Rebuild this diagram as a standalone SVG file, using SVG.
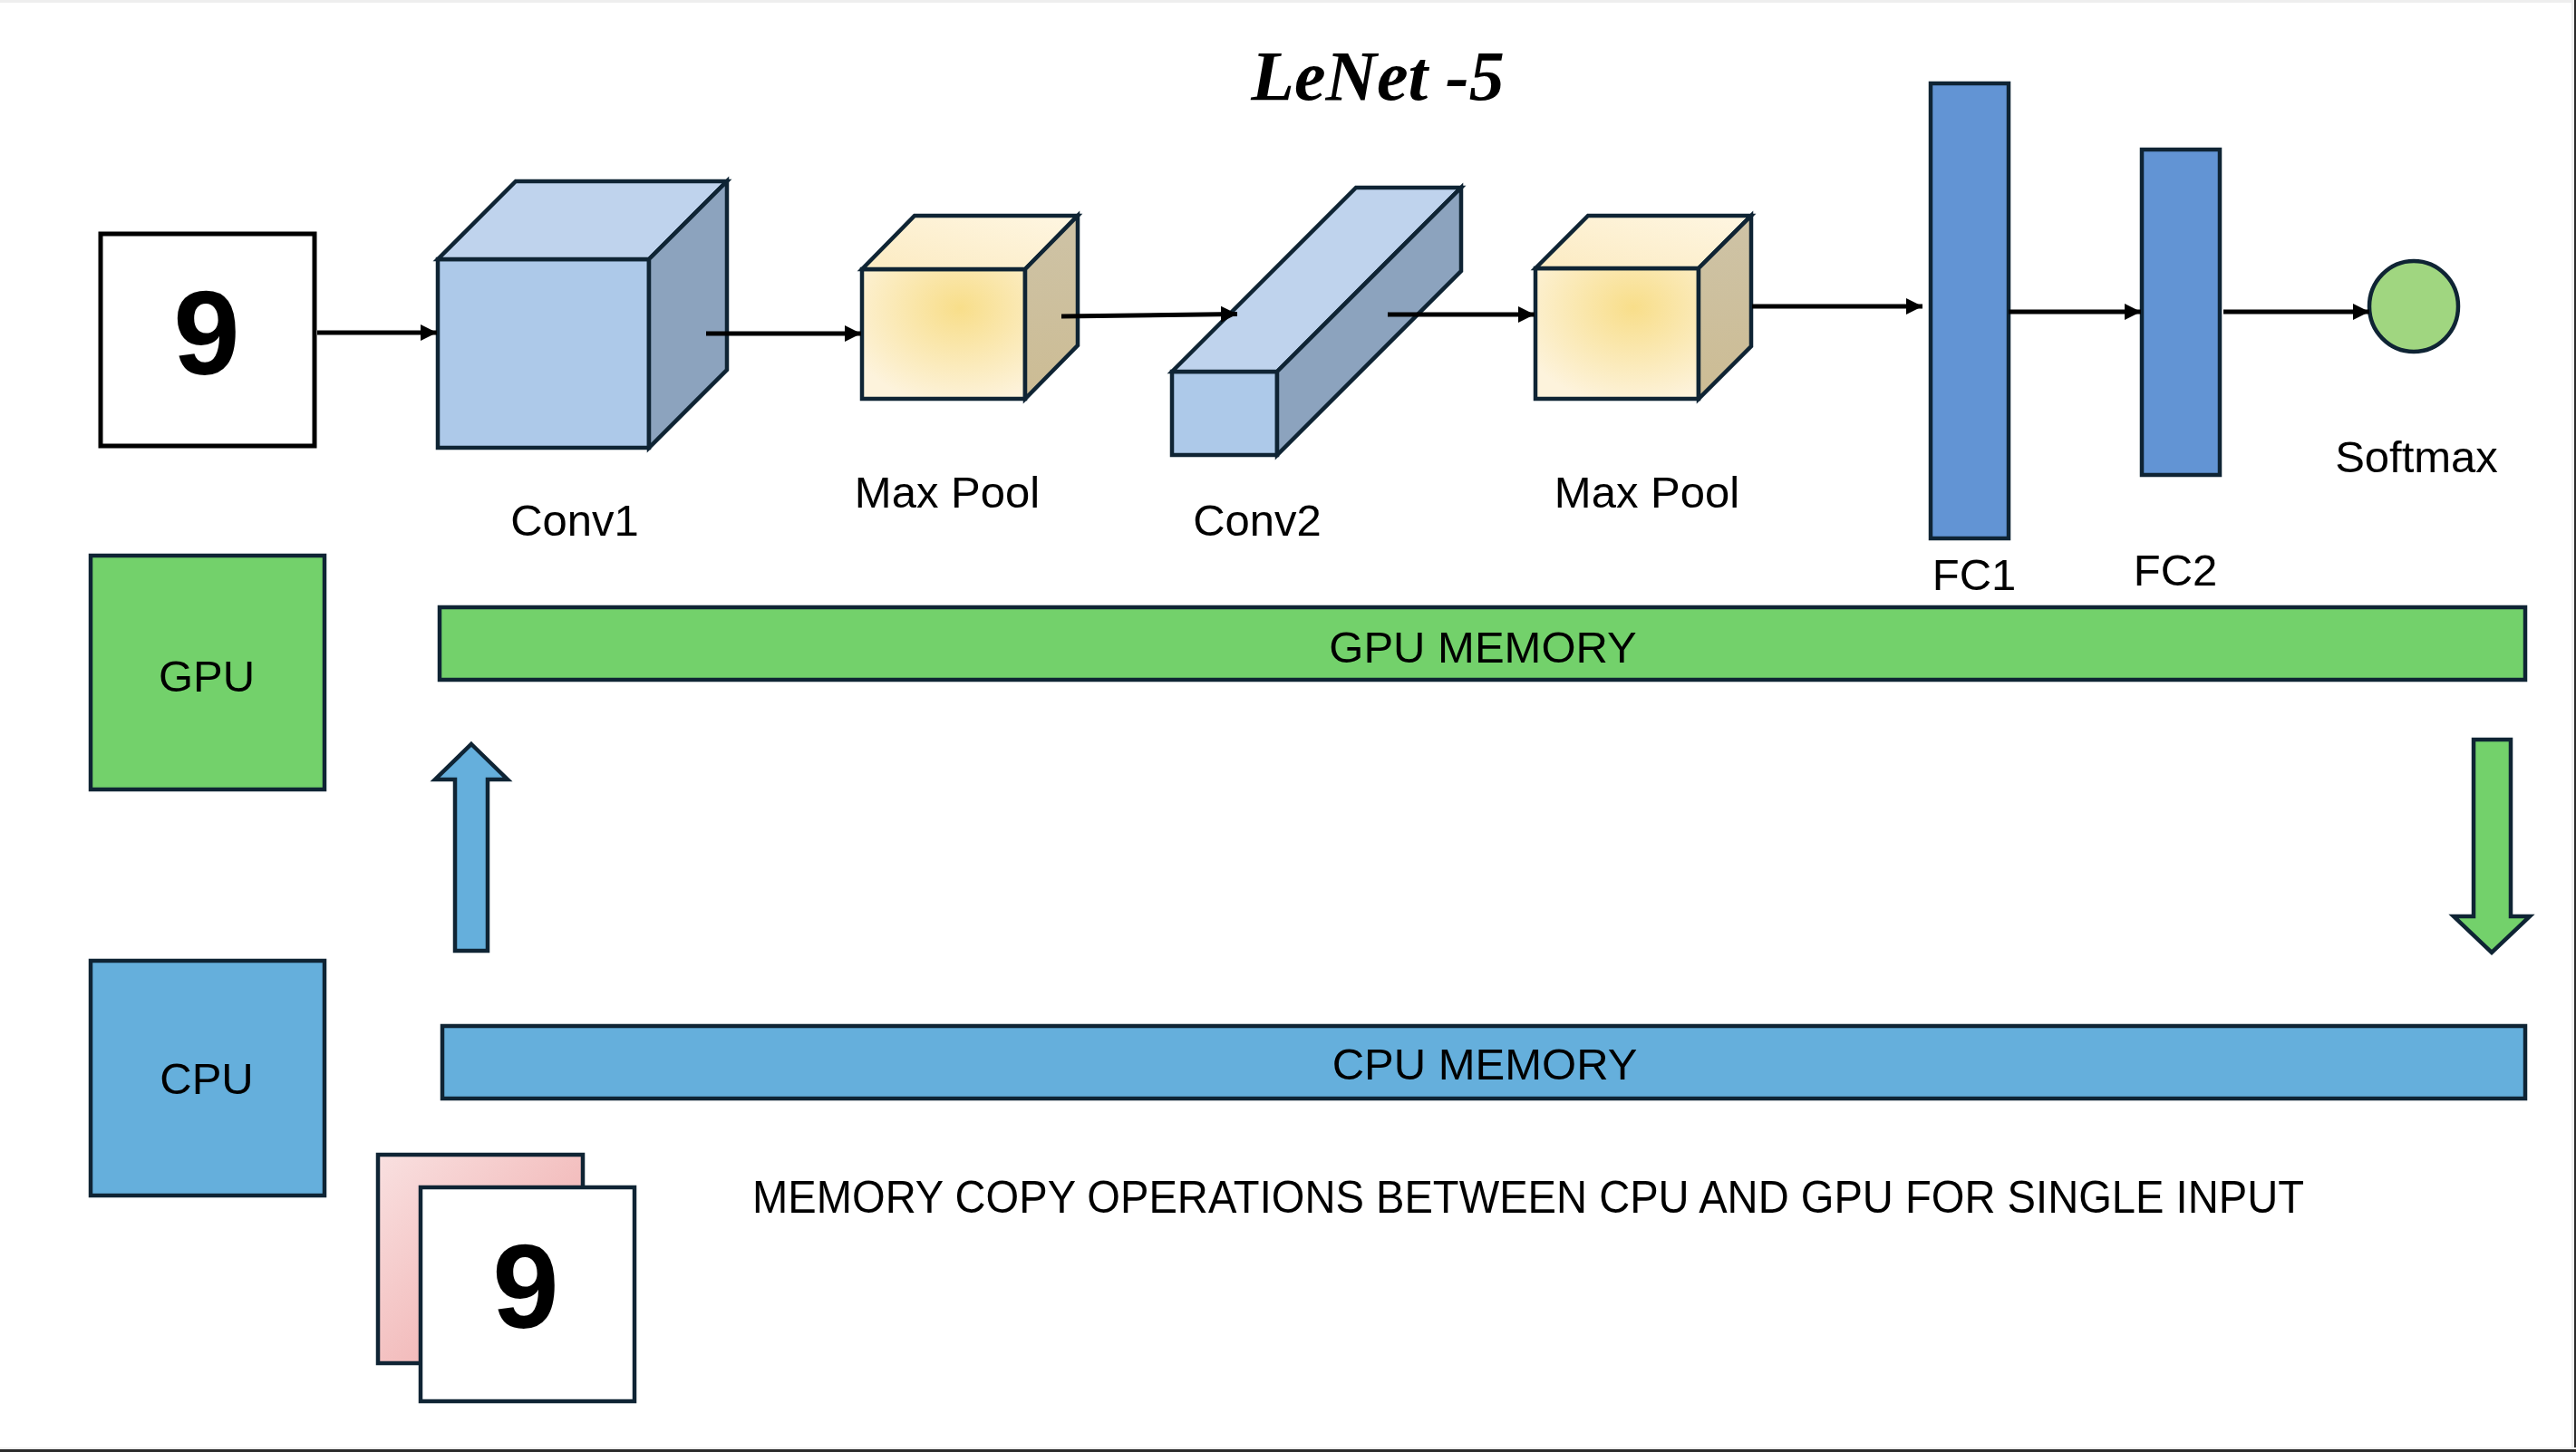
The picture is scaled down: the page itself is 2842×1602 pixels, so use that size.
<svg xmlns="http://www.w3.org/2000/svg" width="2842" height="1602" viewBox="0 0 2842 1602">
<style>
.s{stroke:#0F2434;stroke-width:4.5;stroke-linejoin:miter}
.lbl{font-family:"Liberation Sans",Arial,sans-serif;font-size:49px;fill:#000;text-anchor:middle}
.nine{font-family:"Liberation Sans",Arial,sans-serif;font-weight:bold;font-size:132px;fill:#000;text-anchor:middle}
.cf{fill:#ADC9E9}.ct{fill:#BFD3ED}.cr{fill:#8CA3BE}
.pt{fill:url(#gPoolTop)}.pr{fill:url(#gPoolRight)}.pf{fill:url(#gPool)}
.con{stroke:#000;stroke-width:5;fill:none;marker-end:url(#ah)}
</style>
<defs>
<radialGradient id="gPool" cx="0.6" cy="0.3" r="0.75">
<stop offset="0" stop-color="#F8DE8A"/>
<stop offset="1" stop-color="#FDF3DC"/>
</radialGradient>
<linearGradient id="gPoolTop" x1="0" y1="1" x2="1" y2="0">
<stop offset="0" stop-color="#FCEBC2"/>
<stop offset="1" stop-color="#FEF6E2"/>
</linearGradient>
<linearGradient id="gPoolRight" x1="0" y1="0" x2="0" y2="1">
<stop offset="0" stop-color="#CEC3A6"/>
<stop offset="1" stop-color="#CCBC94"/>
</linearGradient>
<linearGradient id="gPink" x1="0" y1="0" x2="1" y2="1">
<stop offset="0" stop-color="#F9E0E0"/>
<stop offset="1" stop-color="#EEA3A3"/>
</linearGradient>
<marker id="ah" markerUnits="userSpaceOnUse" markerWidth="20" markerHeight="20" refX="18" refY="9" orient="auto">
<path d="M0,0 L18,9 L0,18 z" fill="#000"/>
</marker>
</defs>
<rect x="0" y="0" width="2842" height="1602" fill="#FFFFFF"/>
<g id="frame">
<rect x="0" y="0" width="2842" height="3" fill="#EEEEEE"/>
<rect x="2837" y="0" width="3" height="1602" fill="#EEEEEE"/>
<rect x="2840" y="0" width="2" height="1602" fill="#2B2B2B"/>
<rect x="0" y="1597" width="2842" height="2" fill="#EEEEEE"/>
<rect x="0" y="1599" width="2842" height="3" fill="#2B2B2B"/>
</g>
<g id="title">
<text x="1520" y="110" font-family="'Liberation Serif','DejaVu Serif',serif" font-style="italic" font-weight="bold" font-size="78" text-anchor="middle" fill="#000">LeNet -5</text>
</g>
<g id="input">
<rect x="111" y="258" width="236" height="234" fill="#FFFFFF" stroke="#000" stroke-width="5"/>
<text class="nine" x="228" y="413">9</text>
</g>
<g id="conv1">
<rect class="cf s" x="483" y="286" width="233" height="208"/>
<polygon class="ct s" points="483,286 569,200 802,200 716,286"/>
<polygon class="cr s" points="716,286 802,200 802,408 716,494"/>
<text class="lbl" x="634" y="591">Conv1</text>
</g>
<g id="maxpool1">
<rect class="pf s" x="951" y="297" width="180" height="143"/>
<polygon class="pt s" points="951,297 1009,238 1189,238 1131,297"/>
<polygon class="pr s" points="1131,297 1189,238 1189,381 1131,440"/>
<text class="lbl" x="1045" y="560">Max Pool</text>
</g>
<g id="conv2">
<rect class="cf s" x="1293" y="410" width="116" height="92"/>
<polygon class="ct s" points="1293,410 1496,207 1612,207 1409,410"/>
<polygon class="cr s" points="1409,410 1612,207 1612,299 1409,502"/>
<text class="lbl" x="1387" y="591">Conv2</text>
</g>
<g id="maxpool2">
<rect class="pf s" x="1694" y="296" width="180" height="144"/>
<polygon class="pt s" points="1694,296 1752,238 1932,238 1874,296"/>
<polygon class="pr s" points="1874,296 1932,238 1932,382 1874,440"/>
<text class="lbl" x="1817" y="560">Max Pool</text>
</g>
<g id="fc1">
<rect class="s" x="2130" y="92" width="86" height="502" fill="#6294D4"/>
<text class="lbl" x="2178" y="651">FC1</text>
</g>
<g id="fc2">
<rect class="s" x="2363" y="165" width="86" height="359" fill="#6294D4"/>
<text class="lbl" x="2400" y="646">FC2</text>
</g>
<g id="softmax">
<ellipse class="s" cx="2663" cy="338" rx="49" ry="50" fill="#A0D680"/>
<text class="lbl" x="2666" y="521">Softmax</text>
</g>
<g id="gpu">
<rect class="s" x="100" y="613" width="258" height="258" fill="#73D16B"/>
<text class="lbl" x="228" y="763">GPU</text>
</g>
<g id="cpu">
<rect class="s" x="100" y="1060" width="258" height="259" fill="#65AFDC"/>
<text class="lbl" x="228" y="1207">CPU</text>
</g>
<g id="gpu-memory">
<rect class="s" x="485" y="670" width="2301" height="80" fill="#73D16B"/>
<text class="lbl" x="1636" y="731">GPU MEMORY</text>
</g>
<g id="cpu-memory">
<rect class="s" x="488" y="1132" width="2298" height="80" fill="#65AFDC"/>
<text class="lbl" x="1638" y="1191">CPU MEMORY</text>
</g>
<g id="input-stack">
<rect class="s" x="417" y="1274" width="226" height="230" fill="url(#gPink)"/>
<rect class="s" x="464" y="1310" width="236" height="236" fill="#FFFFFF"/>
<text class="nine" x="580" y="1465">9</text>
</g>
<g id="caption">
<text x="830" y="1338" font-family="'Liberation Sans',Arial,sans-serif" font-size="50" fill="#000" textLength="1712" lengthAdjust="spacingAndGlyphs">MEMORY COPY OPERATIONS BETWEEN CPU AND GPU FOR SINGLE INPUT</text>
</g>
<g id="connectors">
<line class="con" x1="350" y1="367" x2="482" y2="367"/>
<line class="con" x1="779" y1="368" x2="950" y2="368"/>
<line class="con" x1="1171" y1="349" x2="1365" y2="346.5"/>
<line class="con" x1="1531" y1="347" x2="1693" y2="347"/>
<line class="con" x1="1933" y1="338" x2="2121" y2="338"/>
<line class="con" x1="2216" y1="344" x2="2362" y2="344"/>
<line class="con" x1="2453" y1="344" x2="2614" y2="344"/>
<polygon class="s" points="520,821 560,860 538,860 538,1049 502,1049 502,860 480,860" fill="#65AFDC"/>
<polygon class="s" points="2729,816 2770,816 2770,1011 2791,1011 2749,1051 2707,1011 2729,1011" fill="#73D16B"/>
</g>
</svg>
